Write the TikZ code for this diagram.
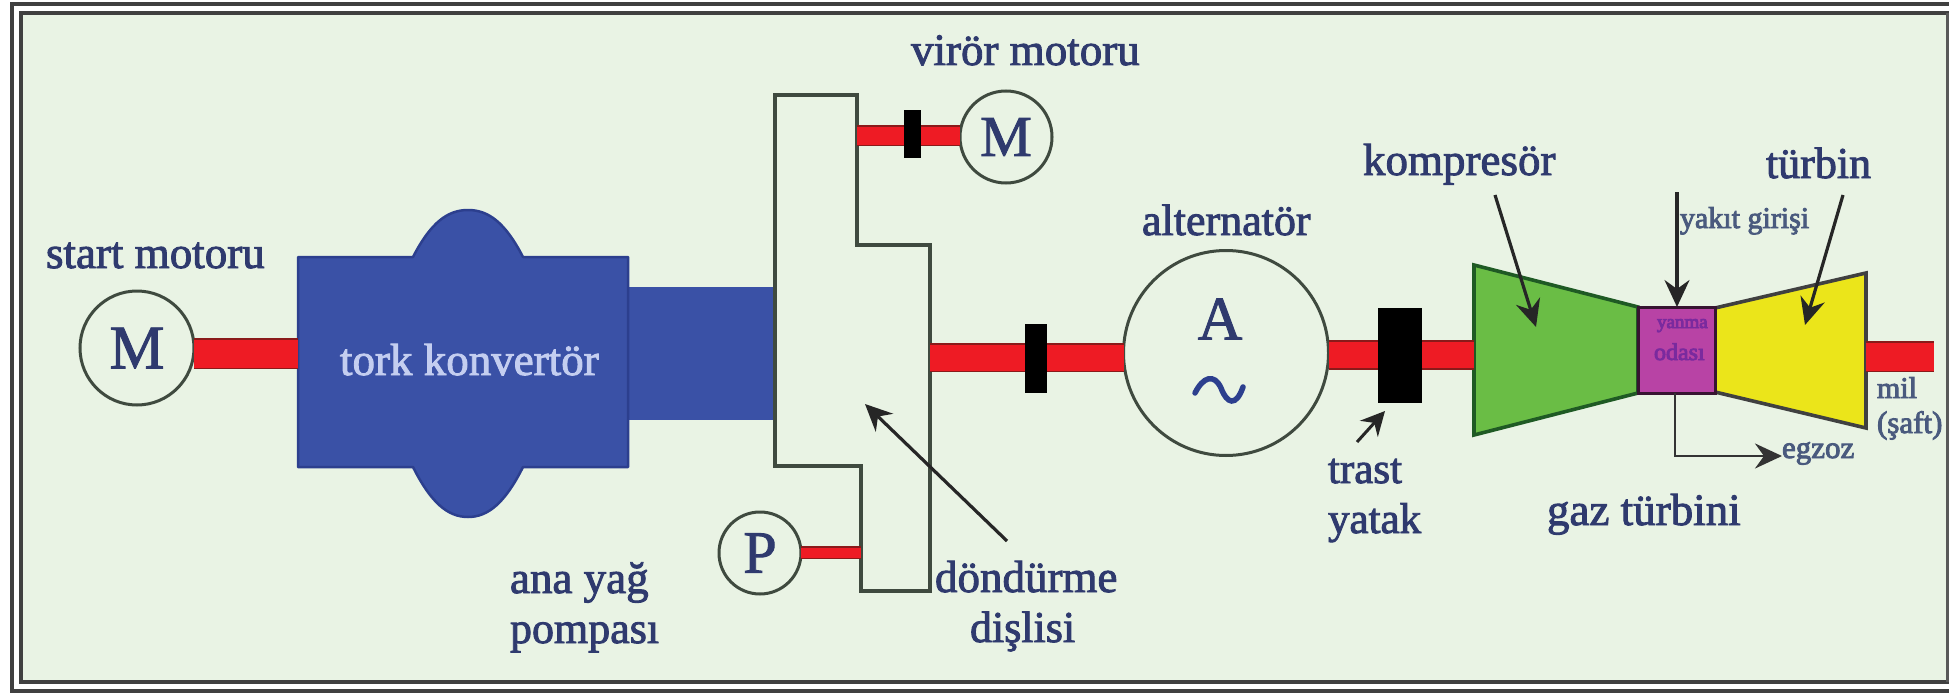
\documentclass[tikz,border=0pt]{standalone}
\usepackage{fontspec}
\setmainfont{Liberation Serif}
\usetikzlibrary{arrows.meta}
\definecolor{bgc}{HTML}{E9F3E4}
\definecolor{inkc}{HTML}{2F3A6E}
\definecolor{inksmall}{HTML}{4A5A7E}
\definecolor{tqtxt}{HTML}{C4CEF0}
\definecolor{linec}{HTML}{3F4A3F}
\definecolor{bluec}{HTML}{3A51A6}
\definecolor{blueedge}{HTML}{2C3F8E}
\definecolor{redc}{HTML}{EE1B24}
\definecolor{rededge}{HTML}{8A1A1A}
\definecolor{greenc}{HTML}{6ABD45}
\definecolor{greenedge}{HTML}{1F5A24}
\definecolor{yellowc}{HTML}{EBE51A}
\definecolor{purplec}{HTML}{B843A5}
\definecolor{purpletxt}{HTML}{7A2A9E}
\newcommand\fsz[1]{\fontsize{#1}{#1}\selectfont}
\newcommand\heavy{\special{pdf:code 2 Tr 0.9 w}}
\newcommand\plain{\special{pdf:code 0 Tr}}
\newcommand\hv[1]{\heavy #1\plain}
\tikzset{
  x=1pt,y=-1pt,
  lab/.style={anchor=base west,inner sep=0pt,outer sep=0pt,text=inkc},
  circ/.style={circle,draw=linec,line width=3pt,fill=bgc,inner sep=0pt,outer sep=0pt,text=inkc},
  shaft/.style={draw=rededge,line width=1.6pt,double=redc,double distance=#1},
  shaft/.default=28pt,
  collar/.style={fill=black,inner sep=0pt,outer sep=0pt},
  callout/.style={draw=black!85,line width=3.2pt,-{Stealth[length=27pt,width=25pt,inset=9pt]}},
  callsmall/.style={draw=black!85,line width=3pt,-{Stealth[length=24pt,width=24pt,inset=8pt]}},
  calltwo/.style={draw=black!80,line width=2.8pt,-{Stealth[length=27pt,width=25pt,inset=9pt]}},
  hull/.style={line width=3.6pt,line join=miter},
}
\begin{document}
\begin{tikzpicture}
\useasboundingbox (0,0) rectangle (1949,693);
% frame
\fill[white] (0,0) rectangle (1949,693);
\fill[bgc] (21,13) rectangle (1947,682);
\draw[black!75,line width=4pt] (1949,4) -- (12,4) -- (12,691) -- (1949,691);
\draw[black!75,line width=3.6pt] (1949,13) -- (21,13) -- (21,682) -- (1949,682);
\draw[black!65,line width=2.5pt] (1947.5,13) -- (1947.5,682);

% shaft reference heights
\coordinate (ya) at (0,353.5);
\coordinate (yb) at (0,135.5);
\coordinate (yc) at (0,357.5);
\coordinate (yd) at (0,355);
\coordinate (ye) at (0,552.5);
\coordinate (yf) at (0,356.5);

% torque converter body
\path[fill=bluec] (628,287) rectangle (778,420);
\path[fill=bluec,draw=blueedge,line width=2.5pt,line join=round]
  (298,257) -- (413,257) .. controls (431,222) and (448,210) .. (468,210)
  .. controls (488,210) and (505,222) .. (523,257) -- (628,257) -- (628,467)
  -- (523,467) .. controls (505,503) and (488,517) .. (468,517)
  .. controls (448,517) and (431,503) .. (413,467) -- (298,467) -- cycle;
\node[minimum width=330pt,minimum height=210pt,inner sep=0pt,outer sep=0pt] (tq) at (463,362) {};
\node[lab,text=tqtxt,font=\fsz{45}] (tqt) at (340,375) {\hv{tork konvertör}};

% gear box
\coordinate (g1) at (775,95);
\coordinate (g2) at (857,95);
\coordinate (g3) at (857,245);
\coordinate (g4) at (930,245);
\coordinate (g5) at (930,591);
\coordinate (g6) at (861,591);
\coordinate (g7) at (861,466);
\coordinate (g8) at (775,466);
\draw[linec,fill=bgc,hull] (g1) -- (g2) -- (g3) -- (g4) -- (g5) -- (g6) -- (g7) -- (g8) -- cycle;

% machines
\node[circ,minimum size=114pt,font=\fsz{62}] (m1) at (137,348) {\hv{M}};
\node[circ,minimum size=92pt,font=\fsz{58}] (m2) at (1006,137) {\hv{M}};
\node[circ,minimum size=82pt,font=\fsz{60}] (pp) at (760,553) {\hv{P}};
\node[circ,minimum size=205pt] (alt) at (1226,353) {};
\node[text=inkc,inner sep=0pt,font=\fsz{62}] (alta) at (1220,319) {\hv{A}};
\draw[blueedge,line width=5.5pt,line cap=round]
  (1195,393) .. controls (1203,377) and (1214,373) .. (1221,388)
  .. controls (1227,404) and (1236,407) .. (1243,387);

% gas turbine
\draw[greenedge,fill=greenc,hull] (1474,265) -- (1638,307) -- (1638,393) -- (1474,435) -- cycle;
\draw[black!75,fill=yellowc,hull] (1715,308) -- (1866,273) -- (1866,428) -- (1715,392) -- cycle;
\node[fill=purplec,draw=black!70!purplec,line width=3pt,minimum width=77pt,minimum height=86pt,inner sep=0pt,outer sep=0pt] (cc) at (1676.5,350) {};
\coordinate (tl) at (1474,350);
\coordinate (tr) at (1866,350);
\node[lab,text=purpletxt,font=\fsz{19}] (cc1) at (1657,328) {\hv{yanma}};
\node[lab,text=purpletxt,font=\fsz{24}] (cc2) at (1654,360) {\hv{odası}};

% shafts
\draw[shaft=28pt] (m1.east |- ya) -- (tq.west |- ya);
\draw[shaft=18pt] (g2 |- yb) -- (m2.west |- yb);
\draw[shaft=26pt] (g4 |- yc) -- (alt.west |- yc);
\draw[shaft=26pt] (alt.east |- yd) -- (tl |- yd);
\draw[shaft=10pt] (pp.east |- ye) -- (g7 |- ye);
\coordinate (shend) at (1934,356.5);
\draw[shaft=28pt] (tr |- yf) -- (shend);

% collars
\node[collar,minimum width=17pt,minimum height=48pt] (c1) at (912.5,134) {};
\node[collar,minimum width=22pt,minimum height=69pt] (c2) at (1036,358.5) {};
\node[collar,minimum width=44pt,minimum height=95pt] (c3) at (1400,355.5) {};

% labels
\node[lab,font=\fsz{45}] (l1) at (46,268) {\hv{start motoru}};
\node[lab,font=\fsz{45}] (l2) at (911,65) {\hv{virör motoru}};
\node[lab,font=\fsz{44}] (l3) at (1142,235) {\hv{alternatör}};
\node[lab,font=\fsz{45}] (l4) at (1363,175) {\hv{kompresör}};
\node[lab,font=\fsz{44}] (l5) at (1766,178) {\hv{türbin}};
\node[lab,text=inksmall,font=\fsz{30}] (l6) at (1680,228) {\hv{yakıt girişi}};
\node[lab,text=inksmall,font=\fsz{31}] (l7) at (1782,458) {\hv{egzoz}};
\node[lab,text=inksmall,font=\fsz{30}] (l8) at (1877,398) {\hv{mil}};
\node[lab,text=inksmall,font=\fsz{31}] (l9) at (1877,433) {\hv{(şaft)}};
\node[lab,font=\fsz{45}] (l10) at (1547,525) {\hv{gaz türbini}};
\node[lab,font=\fsz{43}] (l11) at (1328,483) {\hv{trast}};
\node[lab,font=\fsz{43}] (l12) at (1328,533) {\hv{yatak}};
\node[lab,font=\fsz{45}] (l13) at (935,592) {\hv{döndürme}};
\node[lab,font=\fsz{44}] (l14) at (970,642) {\hv{dişlisi}};
\node[lab,font=\fsz{45}] (l15) at (510,593) {\hv{ana yağ}};
\node[lab,font=\fsz{44}] (l16) at (510,643) {\hv{pompası}};

% callouts
\coordinate (a1s) at (1495,195);
\coordinate (a1e) at (1536,327);
\coordinate (a2s) at (1677,192);
\coordinate (a3s) at (1843,195);
\coordinate (a3e) at (1805,325);
\coordinate (a4s) at (1007,541);
\coordinate (a4e) at (865,404);
\coordinate (a5s) at (1357,442);
\coordinate (a6m) at (1675,456);
\draw[callout] (a1s) -- (a1e);
\draw[callout] (a2s) -- (cc.north -| a2s);
\draw[callout] (a3s) -- (a3e);
\draw[callout] (a4s) -- (a4e);
\draw[callsmall] (a5s) -- ([xshift=-15pt,yshift=-8pt]c3.south);
\draw[calltwo] (cc.south -| a6m) -- (a6m) -- (l7.west |- a6m);
\end{tikzpicture}
\end{document}
